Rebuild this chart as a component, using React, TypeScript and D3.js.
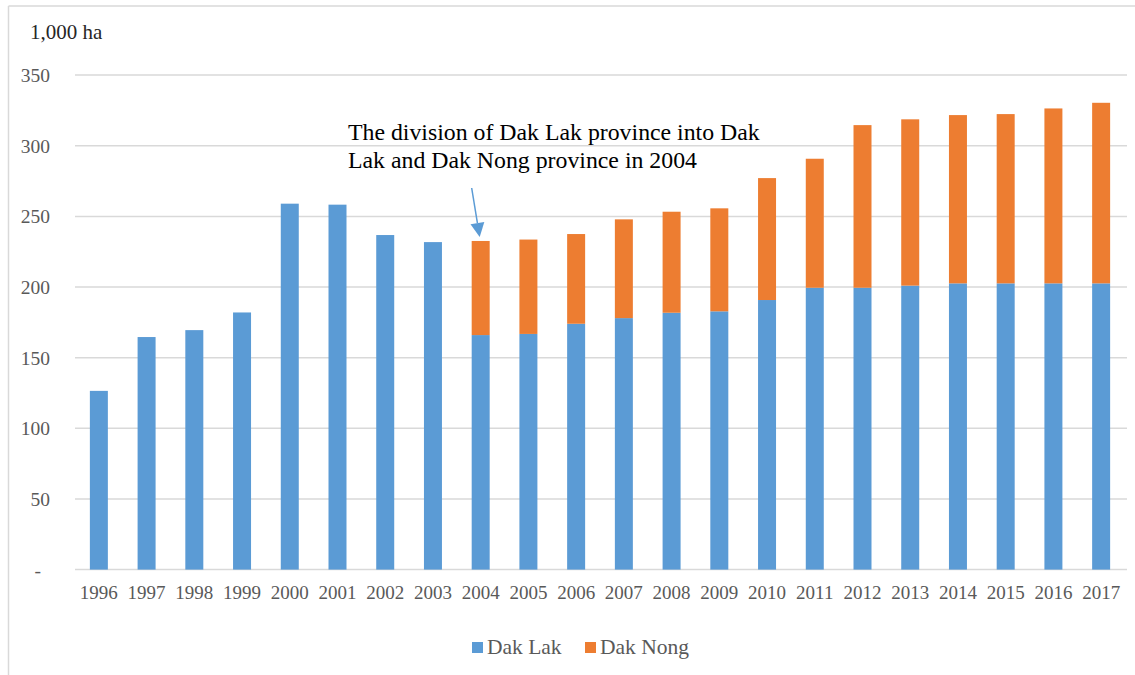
import React from "react";
import * as d3 from "d3";

const years = ["1996","1997","1998","1999","2000","2001","2002","2003","2004","2005","2006","2007","2008","2009","2010","2011","2012","2013","2014","2015","2016","2017"];
const dakLak = [126.5, 164.6, 169.5, 182, 259, 258.3, 236.8, 231.8, 166, 166.8, 174, 178, 181.8, 182.8, 190.8, 199.5, 199.5, 201, 202.6, 202.6, 202.6, 202.6];
const dakNong = [0, 0, 0, 0, 0, 0, 0, 0, 66.6, 66.8, 63.5, 69.9, 71.5, 72.9, 86.3, 91.3, 115.1, 117.7, 119.1, 119.8, 123.8, 127.8];
const yTicks = [0, 50, 100, 150, 200, 250, 300, 350];
const seriesNames = ["Dak Lak", "Dak Nong"];
const colors = ["#5B9BD5", "#ED7D31"];
const annotationLines = ["The division of Dak Lak province into Dak", "Lak and Dak Nong province in 2004"];
const unitLabel = "1,000 ha";

export default function App() {
  const W = 1135, H = 675;
  const x = d3.scaleBand<string>().domain(years).range([75, 1125]).paddingInner(0.623).paddingOuter(0.3115);
  const y = d3.scaleLinear().domain([0, 350]).range([569.6, 75.1]);
  const font = "'Liberation Serif', 'Times New Roman', serif";
  const stack = d3.stack<any>().keys(["a", "b"])(years.map((yr, i) => ({ a: dakLak[i], b: dakNong[i] })));
  const ai = years.indexOf("2004");
  const tipX = (x("2004") as number) + x.bandwidth() / 2 - 1;
  const tipY = y(dakLak[ai] + dakNong[ai]) - 4;
  const startX = tipX - 8, startY = 188;
  const ang = Math.atan2(tipY - startY, tipX - startX);
  const hl = 14, hw = 7;
  const bx = tipX - hl * Math.cos(ang), by = tipY - hl * Math.sin(ang);
  const p1 = [bx + hw * Math.sin(ang), by - hw * Math.cos(ang)];
  const p2 = [bx - hw * Math.sin(ang), by + hw * Math.cos(ang)];
  return (
    <div style={{ position: "absolute", left: 0, top: 0 }}>
      <svg width={W} height={H} style={{ display: "block", background: "#fff" }}>
        <line x1={8.5} y1={6} x2={8.5} y2={H} stroke="#d9d9d9" strokeWidth={1.5} />
        <line x1={8.5} y1={6} x2={W} y2={6} stroke="#d9d9d9" strokeWidth={1.5} />
        <text x={30} y={39} fontFamily={font} fontSize={21} fill="#262626">{unitLabel}</text>
        {yTicks.map(t => (
          <g key={t}>
            <line x1={75} x2={1127} y1={y(t)} y2={y(t)} stroke="#d9d9d9" strokeWidth={1.5} />
            <text x={t === 0 ? 41 : 50} y={y(t) + 7} textAnchor="end" fontFamily={font} fontSize={19.5} fill="#595959">{t === 0 ? "-" : String(t)}</text>
          </g>
        ))}
        {stack.map((s, si) => (
          <g key={si} fill={colors[si]}>
            {s.map((d, i) => d[1] - d[0] > 0 ? (
              <rect key={i} x={x(years[i])} width={x.bandwidth()} y={y(d[1])} height={y(d[0]) - y(d[1])} />
            ) : null)}
          </g>
        ))}
        {years.map(yr => (
          <text key={yr} x={(x(yr) as number) + x.bandwidth() / 2} y={599} textAnchor="middle" fontFamily={font} fontSize={19} fill="#595959">{yr}</text>
        ))}
        {annotationLines.map((l, i) => (
          <text key={i} x={348} y={140 + i * 28} fontFamily={font} fontSize={23.8} fill="#000">{l}</text>
        ))}
        <line x1={startX} y1={startY} x2={bx} y2={by} stroke="#5B9BD5" strokeWidth={1.5} />
        <polygon points={`${tipX},${tipY} ${p1[0]},${p1[1]} ${p2[0]},${p2[1]}`} fill="#5B9BD5" />
        {seriesNames.map((n, i) => {
          const lx = i === 0 ? 472 : 585;
          return (
            <g key={n}>
              <rect x={lx} y={642} width={11} height={11} fill={colors[i]} />
              <text x={lx + 15} y={654} fontFamily={font} fontSize={21.5} fill="#595959">{n}</text>
            </g>
          );
        })}
      </svg>
    </div>
  );
}
